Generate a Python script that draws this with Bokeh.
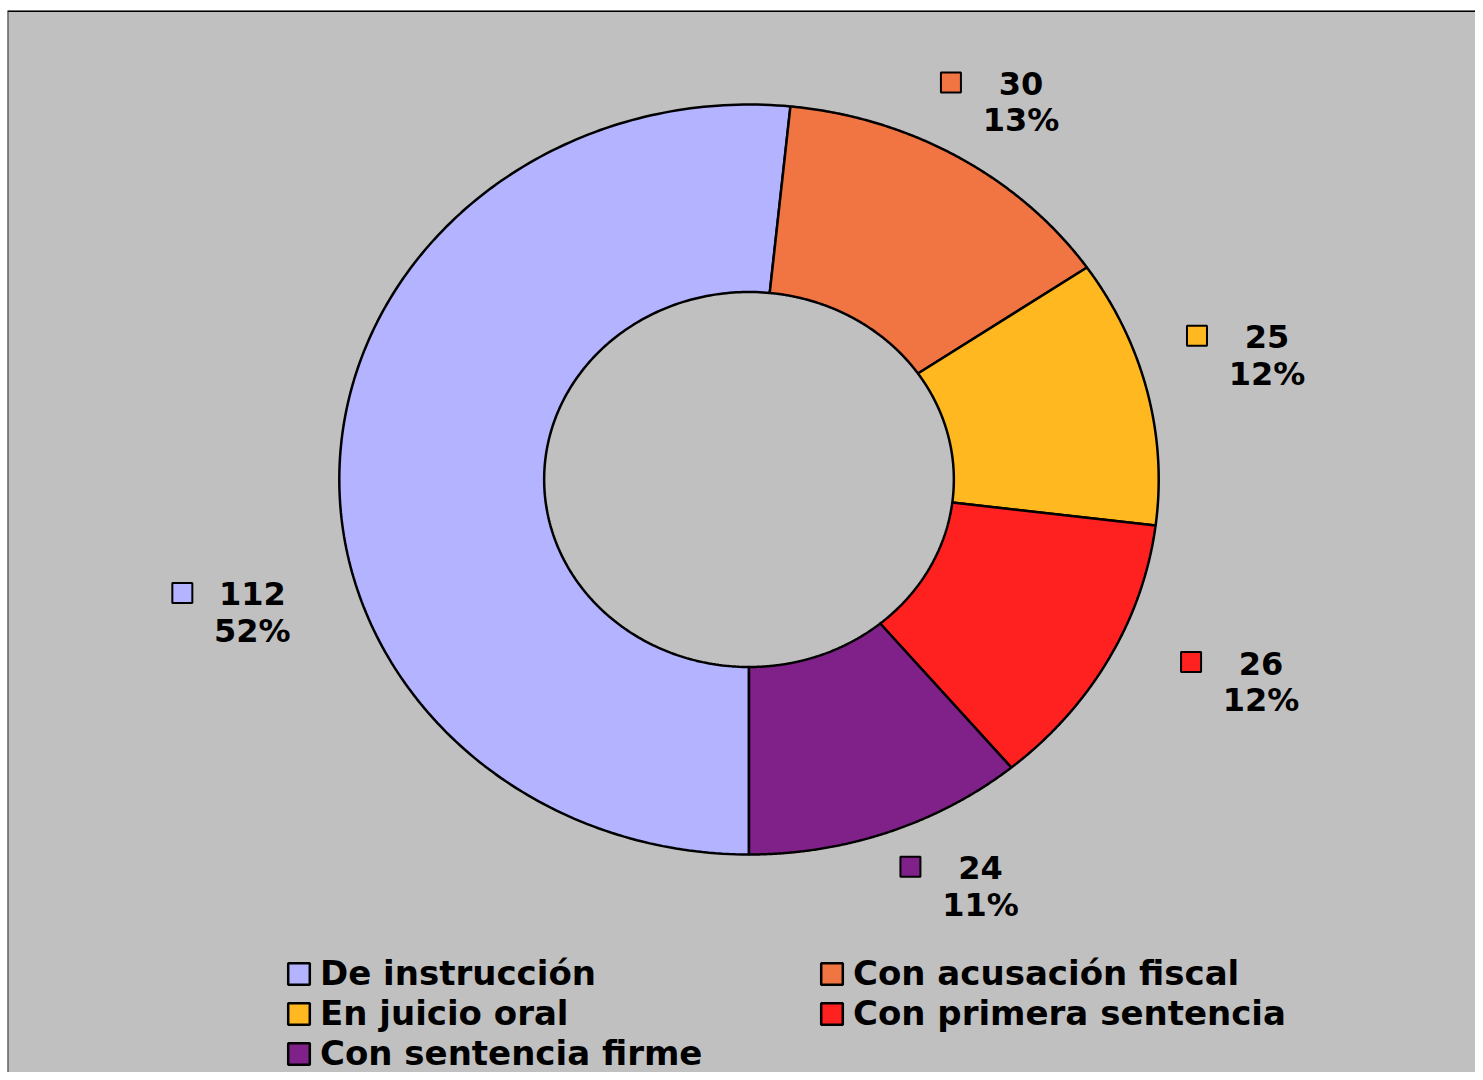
import numpy as np
from bokeh.plotting import figure
from bokeh.models import Range1d, Legend, LegendItem, ColumnDataSource, Span
from bokeh.core.properties import value
from bokeh.embed import file_html
from bokeh.resources import INLINE

# ---------------- data ----------------
categories = ["De instrucción", "Con acusación fiscal", "En juicio oral",
              "Con primera sentencia", "Con sentencia firme"]
values = [112, 30, 25, 26, 24]
percent_labels = ["52%", "13%", "12%", "12%", "11%"]

# ---------------- style / layout ----------------
colors = ["#B3B3FF", "#F07542", "#FFB81F", "#FF2020", "#802189"]
BG = "#C0C0C0"
W, H = 1475, 1072
BORDER_L, BORDER_T = 7, 10
FW, FH = W - BORDER_L, H - BORDER_T          # frame size in px
RX, RY = 409.7, 375.0                         # outer radius in px (x, y)
CX, CY = 741.5, 469.0                         # donut centre in frame px (from left, from top)
START_DEG = 180.0                             # first slice starts at 6 o'clock, clockwise
HOLE = 0.5
label_r = [1.263, 1.206, 1.307, 1.361, 1.223]        # label radius (outer radius = 1)
label_shift = [-19.2, 2.7, -1.0, -5.3, -7.6]         # degrees from slice mid-angle
LINE_GAP = 18.5                                       # px from block centre to each line
KEY_DX, KEY_DY = -70.0, -19.5                         # key square offset from block centre, px
FONT = "DejaVu Sans"

x_range = Range1d(-CX / RX, (FW - CX) / RX)
y_range = Range1d(-(FH - CY) / RY, CY / RY)

p = figure(width=W, height=H, x_range=x_range, y_range=y_range,
           x_axis_type=None, y_axis_type=None, toolbar_location=None,
           output_backend="svg", min_border_left=BORDER_L, min_border_top=BORDER_T,
           min_border_right=0, min_border_bottom=0)
p.background_fill_color = BG
p.border_fill_color = "white"
p.outline_line_color = None

# chart-area border on top and left
p.add_layout(Span(location=y_range.end, dimension="width", line_color="black", line_width=3))
p.add_layout(Span(location=x_range.start, dimension="height", line_color="#333333", line_width=2))

# ---------------- donut slices ----------------
total = float(sum(values))
fracs = np.array(values, dtype=float) / total
ends = START_DEG + np.cumsum(fracs) * 360.0
starts = ends - fracs * 360.0
mids = (starts + ends) / 2.0

xs, ys = [], []
for a0, a1 in zip(starts, ends):
    t = np.radians(np.linspace(a0, a1, 200))
    ox, oy = np.sin(t), np.cos(t)
    ix, iy = HOLE * np.sin(t[::-1]), HOLE * np.cos(t[::-1])
    xs.append(np.concatenate([ox, ix]).tolist())
    ys.append(np.concatenate([oy, iy]).tolist())

src = ColumnDataSource(dict(xs=xs, ys=ys, color=colors, cat=categories))
r = p.patches(xs="xs", ys="ys", fill_color="color", line_color="black",
              line_width=2.5, source=src)

# ---------------- data labels ----------------
la = np.radians(mids + np.array(label_shift))
lx = np.array(label_r) * np.sin(la)
ly = np.array(label_r) * np.cos(la)
lab = ColumnDataSource(dict(x=lx, y=ly,
                            kx=lx + KEY_DX / RX, ky=ly - KEY_DY / RY,
                            val=[str(v) for v in values], pct=percent_labels,
                            color=colors))
common = dict(text_align="center", text_baseline="middle",
              text_font=value(FONT), text_font_style="bold",
              text_font_size="32px", text_color="black", source=lab)
p.text(x="x", y="y", text="val", y_offset=-LINE_GAP, **common)
p.text(x="x", y="y", text="pct", y_offset=LINE_GAP, **common)
p.scatter(x="kx", y="ky", marker="square", size=20, fill_color="color",
          line_color="black", line_width=2, source=lab)

# ---------------- legend (two columns) ----------------
def make_legend(idx, loc):
    items = [LegendItem(label=categories[i], renderers=[r], index=i) for i in idx]
    leg = Legend(items=items, location=loc, orientation="vertical",
                 label_text_font=FONT, label_text_font_style="bold",
                 label_text_font_size="34px", label_text_color="black",
                 glyph_width=27, glyph_height=27, label_height=26,
                 label_standoff=8, spacing=0, padding=0, margin=0,
                 border_line_color=None, background_fill_alpha=0)
    p.add_layout(leg, "center")

make_legend([0, 2, 4], (278, -1))
make_legend([1, 3], (811, 39))

open("out.html", "w").write(file_html(p, INLINE))
